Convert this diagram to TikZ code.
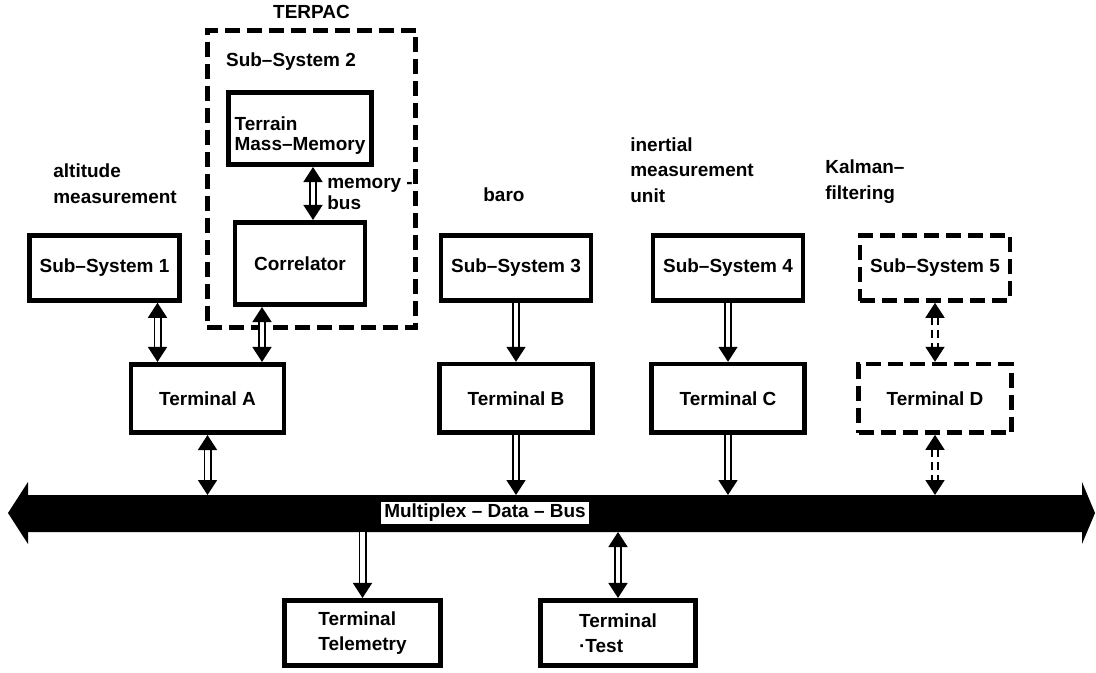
\documentclass[tikz,border=0pt]{standalone}
\usepackage{fontspec}
\setmainfont{Liberation Sans}
\usepackage{tikz}
\usetikzlibrary{arrows.meta,positioning}

\newcommand{\lbl}{\fontsize{10.8}{14.5}\selectfont\bfseries}

\begin{document}
\begin{tikzpicture}[
  >={Triangle[length=0.3cm,width=0.38cm]},
  box/.style={rectangle, draw=black, line width=2.6pt, minimum width=3cm, minimum height=1.3cm, align=center, font=\lbl},
  dbox/.style={box, dash pattern=on 0.3cm off 0.14cm},
  term/.style={box, minimum width=3.06cm, minimum height=1.37cm},
  tag/.style={align=left, font=\lbl, inner sep=0pt},
  link/.style={line width=0.035cm, double, double distance=0.09cm},
  dlink/.style={link, dash pattern=on 0.16cm off 0.1cm},
]
\useasboundingbox (0,0) rectangle (21.92,-13.46);

% TERPAC
\node[dbox, minimum width=4.17cm, minimum height=5.95cm] (terpac) at (6.23,-3.58) {};
\node[tag, above=0.18cm of terpac] (terpaclbl) {TERPAC};
\node[tag] (ss2lbl) at (5.82,-1.24) {Sub--System 2};
\node[box, align=left, minimum width=2.63cm, minimum height=1.45cm] (terrain) at (6.0,-2.57) {\rule{0pt}{0.55cm}Terrain\\[-3pt]Mass--Memory};
\node[box, minimum width=2.6cm, minimum height=1.65cm] (corr) at (6.0,-5.27) {Correlator};
\node[tag, anchor=west] (memlbl) at (6.54,-3.88) {memory -\\[-3pt]bus};

% sub-systems
\node[box] (ss1) at (2.09,-5.36) {Sub--System 1};
\node[box] (ss3) at (10.32,-5.36) {Sub--System 3};
\node[box] (ss4) at (14.56,-5.36) {Sub--System 4};
\node[dbox] (ss5) at (18.7,-5.36) {Sub--System 5};

% descriptions
\node[tag, anchor=west] (ss1lbl) at (1.06,-3.67) {altitude\\measurement};
\node[tag, anchor=west] (ss3lbl) at (9.66,-3.9) {baro};
\node[tag, anchor=west] (ss4lbl) at (12.6,-3.4) {inertial\\measurement\\unit};
\node[tag, anchor=west] (ss5lbl) at (16.5,-3.63) {Kalman--\\filtering};

% terminals
\node[term] (ta) at (4.15,-7.97) {Terminal A};
\node[term, below=1.18cm of ss3] (tb) {Terminal B};
\node[term, below=1.18cm of ss4] (tc) {Terminal C};
\node[term, dash pattern=on 0.3cm off 0.14cm, below=1.18cm of ss5] (td) {Terminal D};
\node[term, align=left, minimum width=3.13cm, minimum height=1.31cm] (ttel) at (7.25,-12.66) {Terminal\\Telemetry};
\node[term, align=left, minimum width=3.11cm, minimum height=1.31cm] (ttest) at (12.36,-12.66) {Terminal\\·Test};

% data bus
\coordinate (bustop) at (0,-9.9);
\coordinate (busbot) at (0,-10.64);
\fill[black] (0.16,-10.26) -- (0.56,-9.64) -- (0.56,-9.9) -- (21.64,-9.9) -- (21.64,-9.64)
  -- (21.9,-10.26) -- (21.64,-10.88) -- (21.64,-10.64) -- (0.56,-10.64) -- (0.56,-10.88) -- cycle;
\node[fill=white, font=\lbl, inner xsep=2pt, inner ysep=1.5pt] (buslbl) at (9.7,-10.26) {Multiplex -- Data -- Bus};

% links
\draw[link, <->] ([xshift=0.26cm]terrain.south) -- ([xshift=0.26cm]terrain.south |- corr.north);
\draw[link, <->] ([xshift=1.06cm]ss1.south) -- ([xshift=1.06cm]ss1.south |- ta.north);
\draw[link, <->] ([xshift=-0.76cm]corr.south) -- ([xshift=-0.76cm]corr.south |- ta.north);
\draw[link, ->] (ss3) -- (tb);
\draw[link, ->] (ss4) -- (tc);
\draw[dlink, <->] (ss5) -- (td);
\draw[link, <->] (ta.south) -- (ta.south |- bustop);
\draw[link, ->] (tb.south) -- (tb.south |- bustop);
\draw[link, ->] (tc.south) -- (tc.south |- bustop);
\draw[dlink, <->] (td.south) -- (td.south |- bustop);
\draw[link, ->] (ttel.north |- busbot) -- (ttel.north);
\draw[link, <->] (ttest.north |- busbot) -- (ttest.north);

\end{tikzpicture}
\end{document}
